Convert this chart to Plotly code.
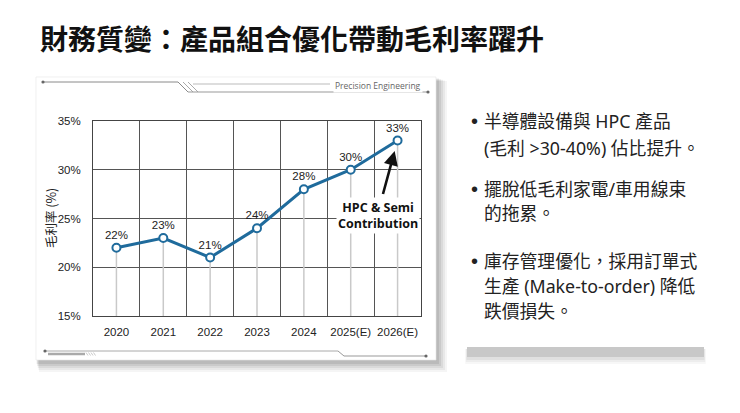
import plotly.graph_objects as go

# ---------------- data ----------------
years = ["2020", "2021", "2022", "2023", "2024", "2025(E)", "2026(E)"]
margin_pct = [22, 23, 21, 24, 28, 30, 33]
labels = [f"{v}%" for v in margin_pct]
y_ticks = [15, 20, 25, 30, 35]
y_tick_text = [f"{v}%" for v in y_ticks]
y_min, y_max = 15, 35

title_text = "財務質變：產品組合優化帶動毛利率躍升"
y_title = "毛利率 (%)"
callout = ["HPC & Semi", "Contribution"]
tag_text = "Precision Engineering"
bullets = [
    ["半導體設備與 HPC 產品", "(毛利 >30-40%) 佔比提升。"],
    ["擺脫低毛利家電/車用線束", "的拖累。"],
    ["庫存管理優化，採用訂單式", "生產 (Make-to-order) 降低", "跌價損失。"],
]

# ---------------- layout helpers ----------------
W, H = 740, 413
ML, MR, MT, MB = 93, 319, 121, 97
PW, PH = W - ML - MR, H - MT - MB


def px(x):
    return (x - ML) / PW


def py(y):
    return (H - MB - y) / PH


CJK = "Noto Sans CJK TC, Noto Sans CJK SC, sans-serif"
BUL = "Noto Sans, Noto Sans CJK TC, sans-serif"
LAT = "Liberation Sans, Arial, sans-serif"
LINE = "#1f6b9c"

fig = go.Figure()

# drop lines from each point to the axis floor
fig.add_trace(go.Scatter(
    x=years, y=margin_pct, mode="markers",
    marker=dict(size=1, color="rgba(0,0,0,0)"),
    error_y=dict(type="data", symmetric=False,
                 array=[0] * len(margin_pct),
                 arrayminus=[v - y_min for v in margin_pct],
                 color="#c9c9c9", thickness=1.5, width=0),
    hoverinfo="skip", showlegend=False,
))

# main line
fig.add_trace(go.Scatter(
    x=years, y=margin_pct, mode="lines+markers+text",
    line=dict(color=LINE, width=3),
    marker=dict(size=8, color="white", line=dict(color=LINE, width=2)),
    text=labels, textposition="top center",
    textfont=dict(family=LAT, size=11.5, color="#222"),
    showlegend=False,
))

shapes = []
# card shadow
for i, op in enumerate([0.04, 0.05, 0.06, 0.07, 0.08]):
    d = 10 - i * 2
    shapes.append(dict(type="rect", xref="paper", yref="paper", layer="below",
                       x0=px(36 + d * 0.3), x1=px(437 + d), y0=py(362 + d), y1=py(78 + d * 0.3),
                       line=dict(width=0), fillcolor=f"rgba(0,0,0,{op})"))
shapes.append(dict(type="rect", xref="paper", yref="paper", layer="below",
                   x0=px(36), x1=px(436), y0=py(360), y1=py(77),
                   line=dict(width=0.6, color="#e6e6e6"), fillcolor="white"))


def seg(x0, y0, x1, y1, color="#8a8a8a", w=1):
    shapes.append(dict(type="line", xref="paper", yref="paper",
                       x0=px(x0), y0=py(y0), x1=px(x1), y1=py(y1),
                       line=dict(color=color, width=w)))


def dot(x, y, r=1.6, color="#666"):
    shapes.append(dict(type="circle", xref="paper", yref="paper",
                       x0=px(x - r), x1=px(x + r), y0=py(y + r), y1=py(y - r),
                       line=dict(width=0), fillcolor=color))


# top decoration
seg(43, 82, 178, 82)
seg(178, 82, 188, 92)
seg(183, 82, 193, 92, "#aaa")
seg(188, 82, 198, 92, "#aaa")
seg(193, 84, 330, 84, "#bbb")
seg(188, 92, 428, 92, "#999")
dot(43, 82)
dot(428, 92)
# bottom decoration
seg(45, 351, 338, 351, "#aaa")
seg(338, 351, 344, 356, "#999")
seg(344, 356, 426, 356, "#999")
seg(48, 354, 85, 354, "#aaa", 2.5)
for k in range(4):
    seg(86 + k * 2.5, 352.5, 88 + k * 2.5, 355.5, "#bbb", 0.8)
dot(45, 351)
dot(426, 356)

# right gray bar with shadow
for i, op in enumerate([0.03, 0.04, 0.05]):
    d = 6 - i * 2
    shapes.append(dict(type="rect", xref="paper", yref="paper", layer="below",
                       x0=px(467 - d * 0.3), x1=px(704 + d * 0.3), y0=py(358 + d), y1=py(349),
                       line=dict(width=0), fillcolor=f"rgba(0,0,0,{op})"))
shapes.append(dict(type="rect", xref="paper", yref="paper", layer="below",
                   x0=px(467), x1=px(704), y0=py(357), y1=py(347),
                   line=dict(width=0), fillcolor="#c8c8c8"))

annotations = []
annotations.append(dict(xref="paper", yref="paper", x=px(38), y=py(38),
                        xanchor="left", yanchor="middle", showarrow=False,
                        text=f"<b>{title_text}</b>",
                        font=dict(family=CJK, size=28, color="#111")))
annotations.append(dict(xref="paper", yref="paper", x=px(423), y=py(85),
                        xanchor="right", yanchor="middle", showarrow=False,
                        text=tag_text, bgcolor="white",
                        font=dict(family="Open Sans, sans-serif", size=8.5, color="#666")))
annotations.append(dict(xref="paper", yref="paper", x=px(50), y=py(218),
                        xanchor="center", yanchor="middle", showarrow=False,
                        text=y_title, textangle=-90,
                        font=dict(family=CJK, size=12.5, color="#222")))
# arrow to final point
annotations.append(dict(x=years[-1], y=margin_pct[-1], xref="x", yref="y",
                        ax=-15, ay=55, axref="pixel", ayref="pixel",
                        showarrow=True, arrowhead=2, arrowsize=1.1, arrowwidth=2.6,
                        arrowcolor="#111", standoff=11, text=""))
annotations.append(dict(xref="paper", yref="paper", x=px(378), y=py(215),
                        xanchor="center", yanchor="middle", showarrow=False,
                        text="<b>" + "<br>".join(callout) + "</b>", bgcolor="white",
                        borderpad=1,
                        font=dict(family="Open Sans, sans-serif", size=12.5, color="#111")))

# bullets
line_y = [[121, 148], [189, 213], [261, 286, 311]]
for blines, ys in zip(bullets, line_y):
    annotations.append(dict(xref="paper", yref="paper", x=px(474), y=py(ys[0]),
                            xanchor="center", yanchor="middle", showarrow=False,
                            text="•", font=dict(family=LAT, size=20, color="#222")))
    for t, yy in zip(blines, ys):
        annotations.append(dict(xref="paper", yref="paper", x=px(482), y=py(yy),
                                xanchor="left", yanchor="middle", showarrow=False,
                                text=t, font=dict(family=BUL, size=17.8, color="#222")))

fig.update_layout(
    width=W, height=H,
    margin=dict(l=ML, r=MR, t=MT, b=MB, autoexpand=False),
    paper_bgcolor="white", plot_bgcolor="rgba(0,0,0,0)",
    shapes=shapes, annotations=annotations,
    showlegend=False,
)
fig.update_xaxes(type="category", range=[-0.5, len(years) - 0.5],
                 tickson="boundaries", showgrid=True, gridcolor="#555", gridwidth=1,
                 showline=True, linecolor="#444", linewidth=1, mirror=True,
                 ticks="", ticklabelstandoff=5, tickangle=0,
                 tickfont=dict(family=LAT, size=11.5, color="#222"), zeroline=False)
fig.update_yaxes(range=[y_min, y_max], tickvals=y_ticks, ticktext=y_tick_text,
                 showgrid=True, gridcolor="#555", gridwidth=1,
                 showline=True, linecolor="#444", linewidth=1, mirror=True,
                 ticks="", ticklabelstandoff=9,
                 tickfont=dict(family=LAT, size=11.5, color="#222"), zeroline=False)

fig.write_html("out.html", config={"displayModeBar": False},
               post_script="document.body.style.margin='0';document.body.style.overflow='hidden';")
